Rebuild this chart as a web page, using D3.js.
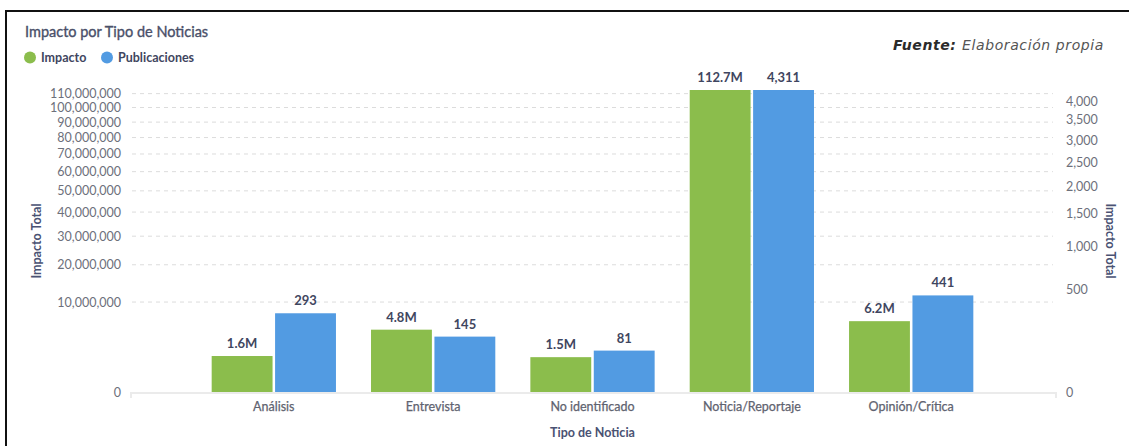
<!DOCTYPE html>
<html>
<head>
<meta charset="utf-8">
<script src="https://cdn.jsdelivr.net/npm/d3@7"></script>
<style>
  body { margin: 0; background: #fff; }
  svg { display: block; font-family: Lato, "Noto Sans", sans-serif; }
</style>
</head>
<body>
<svg id="chart" width="1129" height="446"></svg>
<script>
// datos
const tipos = ["Análisis", "Entrevista", "No identificado", "Noticia/Reportaje", "Opinión/Crítica"];
const impacto = [1600000, 4800000, 1500000, 112700000, 6200000];
const publicaciones = [293, 145, 81, 4311, 441];
const impactoLabels = ["1.6M", "4.8M", "1.5M", "112.7M", "6.2M"];
const leftTicks = [0, 10e6, 20e6, 30e6, 40e6, 50e6, 60e6, 70e6, 80e6, 90e6, 100e6, 110e6];
const rightTicks = [0, 500, 1000, 1500, 2000, 2500, 3000, 3500, 4000];

const green = "#8bbd4c", blue = "#529be2";
const svg = d3.select("#chart");

// marco
svg.append("path").attr("d", "M6,446 V11 H1129")
  .attr("fill", "none").attr("stroke", "#111").attr("stroke-width", 2);

const x0 = 132, x1 = 1053, yBase = 392, yTop = 90;

const x = d3.scaleBand().domain(tipos).range([x0, x1]).paddingInner(0.22).paddingOuter(0.5);
const xs = d3.scaleBand().domain(["imp", "pub"]).range([0, x.bandwidth()]).paddingInner(0.04);
const yL = d3.scaleSqrt().domain([0, d3.max(impacto)]).range([yBase, yTop]);
const yR = d3.scaleSqrt().domain([0, d3.max(publicaciones)]).range([yBase, yTop]);

// grid
svg.append("g").selectAll("line").data(leftTicks.filter(d => d > 0)).join("line")
  .attr("x1", x0).attr("x2", x1)
  .attr("y1", d => yL(d)).attr("y2", d => yL(d))
  .attr("stroke", "#dcdcdc").attr("stroke-dasharray", "4,4");

// ejes
const fmt = d3.format(",");
const gl = svg.append("g").attr("transform", "translate(121,0)")
  .call(d3.axisLeft(yL).tickValues(leftTicks).tickFormat(fmt).tickSize(0).tickPadding(0));
gl.select(".domain").remove();
gl.selectAll("text").attr("font-size", 12.5).attr("fill", "#6d707b").attr("font-family", "Lato");

const gr = svg.append("g").attr("transform", "translate(1066,0)")
  .call(d3.axisRight(yR).tickValues(rightTicks).tickFormat(fmt).tickSize(0).tickPadding(0));
gr.select(".domain").remove();
gr.selectAll("text").attr("font-size", 12.5).attr("fill", "#6d707b").attr("font-family", "Lato");

const gx = svg.append("g").attr("transform", `translate(0,${yBase})`)
  .call(d3.axisBottom(x).tickSize(0).tickSizeOuter(0).tickPadding(10));
gx.select(".domain").attr("d", `M${x0 - 1},6V1H1056V6`).attr("stroke", "#ebebeb").attr("stroke-width", 2).attr("fill", "none");
gx.selectAll("text").attr("font-size", 12.5).attr("fill", "#5f6370").attr("font-family", "Lato")
  .attr("stroke", "#5f6370").attr("stroke-width", 0.25);

// barras
const grp = svg.append("g").selectAll("g").data(tipos).join("g")
  .attr("transform", d => `translate(${x(d)},0)`);

grp.append("rect")
  .attr("x", xs("imp")).attr("width", xs.bandwidth())
  .attr("y", (d, i) => yL(impacto[i])).attr("height", (d, i) => yBase - yL(impacto[i]))
  .attr("fill", green);
grp.append("rect")
  .attr("x", xs("pub")).attr("width", xs.bandwidth())
  .attr("y", (d, i) => yR(publicaciones[i])).attr("height", (d, i) => yBase - yR(publicaciones[i]))
  .attr("fill", blue);

const lblStyle = s => s.attr("text-anchor", "middle").attr("font-size", 13)
  .attr("font-weight", 700).attr("fill", "#3f4660");
grp.append("text").call(lblStyle)
  .attr("x", xs("imp") + xs.bandwidth() / 2)
  .attr("y", (d, i) => yL(impacto[i]) - 8)
  .text((d, i) => impactoLabels[i]);
grp.append("text").call(lblStyle)
  .attr("x", xs("pub") + xs.bandwidth() / 2)
  .attr("y", (d, i) => yR(publicaciones[i]) - 8)
  .text((d, i) => fmt(publicaciones[i]));

// titulos
svg.append("text").attr("x", 25).attr("y", 37).attr("font-size", 14.5)
  .attr("fill", "#4a5069").attr("stroke", "#4a5069").attr("stroke-width", 0.35)
  .text("Impacto por Tipo de Noticias");

const leg = [["Impacto", green, 30], ["Publicaciones", blue, 107]];
leg.forEach(([t, c, cx]) => {
  svg.append("circle").attr("cx", cx).attr("cy", 57.5).attr("r", 6).attr("fill", c);
  svg.append("text").attr("x", cx + 11).attr("y", 62).attr("font-size", 12.5)
    .attr("font-weight", 700).attr("fill", "#3f4660").text(t);
});

svg.append("text").attr("transform", "translate(41,241) rotate(-90)")
  .attr("text-anchor", "middle").attr("font-size", 12.5).attr("font-weight", 700)
  .attr("fill", "#4a5273").text("Impacto Total");
svg.append("text").attr("transform", "translate(1106,241) rotate(90)")
  .attr("text-anchor", "middle").attr("font-size", 12.5).attr("font-weight", 700)
  .attr("fill", "#4a5273").text("Impacto Total");

svg.append("text").attr("x", (x0 + x1) / 2).attr("y", 437).attr("text-anchor", "middle")
  .attr("font-size", 12.5).attr("font-weight", 700).attr("fill", "#4a5273").text("Tipo de Noticia");

const src = svg.append("text").attr("x", 1104).attr("y", 50).attr("text-anchor", "end")
  .attr("font-size", 14).attr("font-style", "italic").attr("font-family", "'DejaVu Sans'")
  .attr("letter-spacing", 0.6);
src.append("tspan").attr("font-weight", 700).attr("fill", "#2b2b2b").text("Fuente: ");
src.append("tspan").attr("fill", "#555").text("Elaboración propia");
</script>
</body>
</html>
